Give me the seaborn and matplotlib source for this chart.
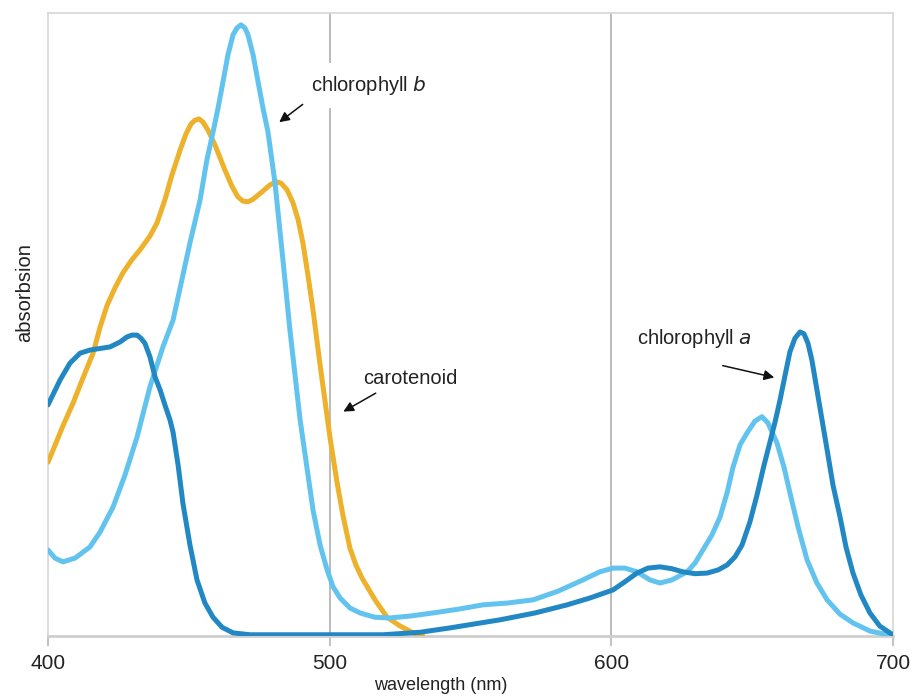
import numpy as np
import pandas as pd
import matplotlib
matplotlib.use("Agg")
import matplotlib.pyplot as plt
import seaborn as sns

# ---- Data ----
# chlorophyll b (light blue)
chl_b_nm = [400.0, 402.5, 405.3, 409.6, 414.9, 418.5, 423.1, 427.3, 431.6, 436.2,
            440.8, 444.4, 450.4, 454.0, 456.4, 458.6, 460.4, 462.1, 463.9, 465.7,
            467.1, 468.5, 469.9, 471.0, 472.8, 474.6, 476.3, 478.1, 480.6, 483.4,
            485.9, 489.5, 494.1, 496.6, 499.1, 501.2, 503.7, 507.2, 510.8, 516.1,
            521.4, 528.5, 536.7, 545.6, 554.4, 563.3, 572.2, 581.1, 589.9, 595.9,
            600.6, 604.8, 609.1, 613.7, 617.3, 621.5, 626.9, 629.7, 632.5, 635.7,
            638.6, 641.1, 643.2, 645.7, 648.2, 651.0, 653.5, 655.6, 658.8, 661.3,
            663.4, 666.3, 669.5, 673.0, 676.6, 681.2, 685.8, 691.8, 697.9, 700.0]
chl_b_abs = [13.8, 12.5, 11.9, 12.5, 14.3, 16.7, 20.7, 25.8, 31.9, 40.0,
             46.4, 50.7, 63.1, 70.0, 76.4, 80.9, 84.8, 88.9, 93.3, 96.5,
             97.6, 98.1, 97.6, 96.5, 93.3, 88.9, 84.8, 80.9, 72.7, 60.4,
             49.1, 34.7, 20.2, 14.6, 10.6, 7.9, 6.1, 4.5, 3.7, 3.0,
             2.9, 3.2, 3.7, 4.3, 5.0, 5.3, 5.8, 7.2, 9.0, 10.3,
             10.9, 10.9, 10.3, 9.0, 8.5, 9.0, 10.3, 11.7, 13.8, 16.2,
             19.1, 23.0, 27.1, 30.7, 32.6, 34.5, 35.2, 34.2, 31.0, 27.1,
             23.0, 17.5, 12.2, 8.5, 5.8, 3.5, 2.1, 0.8, 0.2, 0.0]

# chlorophyll a (dark blue)
chl_a_nm = [400.0, 404.3, 407.8, 411.4, 414.9, 422.0, 425.6, 428.0, 429.8, 431.6,
            433.0, 434.4, 436.2, 438.0, 439.8, 441.5, 443.3, 444.4, 446.2, 447.9,
            450.4, 452.9, 455.7, 458.6, 461.8, 465.7, 471.7, 518.9, 532.1, 542.7,
            560.5, 572.9, 584.3, 592.4, 600.6, 604.8, 609.1, 613.0, 617.3, 621.5,
            625.4, 629.7, 634.0, 637.9, 641.1, 643.9, 646.4, 649.2, 651.7, 654.2,
            656.3, 658.1, 659.9, 661.7, 663.4, 665.2, 667.0, 668.4, 669.8, 671.2,
            673.0, 674.8, 676.6, 678.7, 681.2, 683.3, 685.8, 688.6, 691.8, 695.3,
            698.9, 700.0]
chl_a_abs = [37.1, 41.1, 43.8, 45.4, 45.9, 46.4, 47.2, 48.0, 48.3, 48.3,
             47.8, 47.0, 44.8, 41.6, 39.5, 37.1, 34.7, 32.7, 27.4, 21.3,
             14.6, 9.0, 5.3, 3.0, 1.4, 0.5, 0.2, 0.2, 0.6, 1.3,
             2.6, 3.7, 5.0, 6.1, 7.4, 8.7, 10.1, 10.9, 11.1, 10.8,
             10.3, 10.0, 10.1, 10.6, 11.4, 12.7, 14.6, 18.3, 22.6, 27.4,
             31.1, 34.3, 37.9, 41.9, 45.6, 47.8, 48.8, 48.5, 47.0, 44.3,
             39.5, 34.7, 29.9, 24.2, 19.1, 14.3, 10.1, 6.6, 3.7, 1.6,
             0.5, 0.2]

# carotenoid (orange)
car_nm = [400.0, 401.4, 405.0, 408.9, 412.4, 416.0, 418.5, 421.0, 423.8, 426.6,
          429.8, 432.7, 436.2, 438.7, 441.5, 444.0, 446.9, 449.0, 450.8, 452.2,
          453.6, 455.0, 456.8, 459.3, 462.8, 465.3, 467.4, 469.2, 471.0, 472.8,
          476.0, 478.8, 481.0, 482.7, 484.9, 487.0, 488.8, 490.5, 492.3, 494.1,
          496.6, 500.1, 502.6, 504.7, 507.2, 509.3, 511.5, 516.1, 520.4, 525.0,
          529.6, 533.1]
car_abs = [27.9, 29.4, 33.4, 37.4, 41.4, 45.4, 49.6, 53.1, 55.9, 58.3,
           60.4, 62.0, 64.2, 66.3, 70.0, 74.0, 78.0, 80.6, 82.2, 82.8,
           83.0, 82.5, 81.2, 78.8, 74.8, 72.2, 70.5, 69.8, 69.7, 70.1,
           71.3, 72.4, 72.9, 72.7, 71.6, 69.5, 66.8, 63.1, 57.9, 52.3,
           43.5, 31.9, 24.7, 19.4, 14.1, 11.4, 9.3, 5.8, 3.0, 1.6,
           0.5, 0.0]

x_ticks = [400, 500, 600, 700]

df = pd.concat([
    pd.DataFrame({"nm": car_nm, "abs": car_abs, "pigment": "carotenoid"}),
    pd.DataFrame({"nm": chl_b_nm, "abs": chl_b_abs, "pigment": "chlorophyll b"}),
    pd.DataFrame({"nm": chl_a_nm, "abs": chl_a_abs, "pigment": "chlorophyll a"}),
])

colors = {"carotenoid": "#EDB12B", "chlorophyll b": "#62C4EE", "chlorophyll a": "#2288C3"}

sns.set_theme(style="white")
plt.rcParams["font.family"] = ["Liberation Sans", "DejaVu Sans"]

fig = plt.figure(figsize=(9.14, 6.97), dpi=100)
ax = fig.add_axes([48 / 914, 61 / 697, 845 / 914, 623 / 697])

for name in ["carotenoid", "chlorophyll b", "chlorophyll a"]:
    sub = df[df["pigment"] == name]
    sns.lineplot(data=sub, x="nm", y="abs", ax=ax, color=colors[name],
                 linewidth=3.6, sort=False, estimator=None,
                 solid_capstyle="round", solid_joinstyle="round", zorder=3)

ax.set_xlim(400, 700)
ax.set_ylim(0, 100)
ax.set_xticks(x_ticks)
ax.set_yticks([])
ax.set_xlabel("")
ax.set_ylabel("")
ax.tick_params(axis="x", bottom=True, length=7, width=1.2, color="#b8b8b8",
               labelsize=15, pad=6, labelcolor="#222222")
for x in x_ticks[1:-1]:
    ax.axvline(x, color="#b5b5b5", linewidth=1.3, zorder=1)
for side in ["left", "top", "right"]:
    ax.spines[side].set_color("#d6d6d6")
    ax.spines[side].set_linewidth(1.2)
ax.spines["bottom"].set_color("#cfcfcf")
ax.spines["bottom"].set_linewidth(2)

fig.text(441 / 914, 1 - 685 / 697, "wavelength (nm)", ha="center", va="center",
         fontsize=13, color="#222222")
fig.text(25 / 914, 1 - 293 / 697, "absorbsion", ha="center", va="center",
         rotation=90, fontsize=14.5, color="#222222")

# ---- Annotations ----
arrow = dict(arrowstyle="-|>", color="#111111", lw=1.1, mutation_scale=15)
ax.text(493.4, 88.4, "chlorophyll $\\it{b}$", fontsize=14.5, ha="left", va="center",
        color="#222222", zorder=5,
        bbox=dict(facecolor="white", edgecolor="none", pad=8))
ax.annotate("", xy=(481.3, 82.2), xytext=(491.2, 85.6), arrowprops=arrow, zorder=5)

ax.text(511.8, 41.4, "carotenoid", fontsize=14.5, ha="left", va="center",
        color="#222222", zorder=5)
ax.annotate("", xy=(504.0, 35.8), xytext=(517.2, 39.2), arrowprops=arrow, zorder=5)

ax.text(609.1, 47.8, "chlorophyll $\\it{a}$", fontsize=14.5, ha="left", va="center",
        color="#222222", zorder=5)
ax.annotate("", xy=(658.8, 41.4), xytext=(638.6, 43.5), arrowprops=arrow, zorder=5)

fig.savefig("out.png", dpi=100)
